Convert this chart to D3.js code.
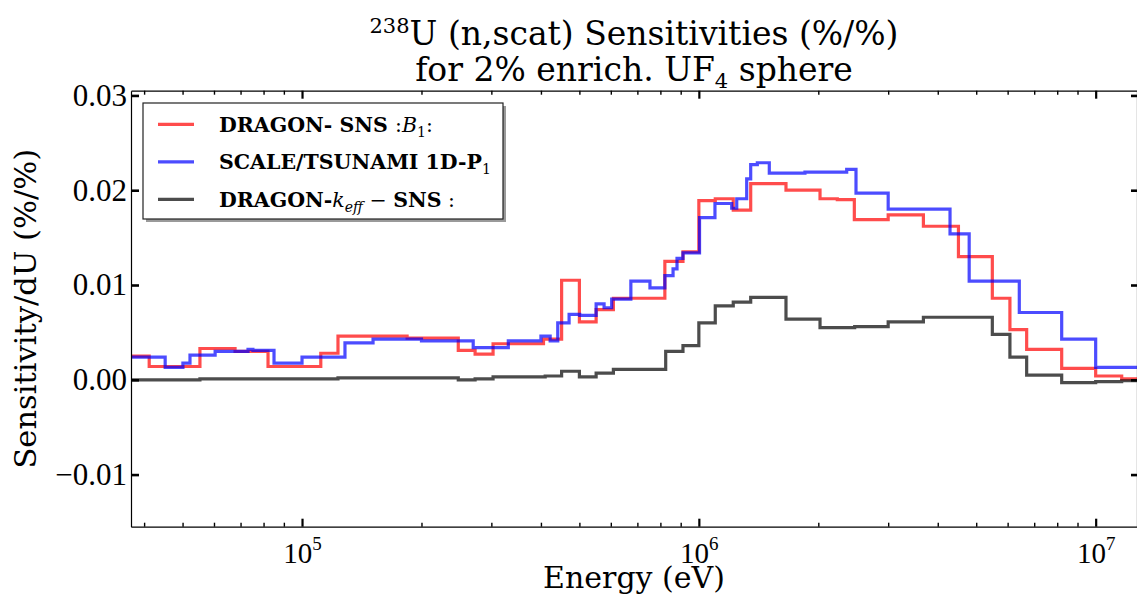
<!DOCTYPE html>
<html><head><meta charset="utf-8">
<script src="https://cdn.jsdelivr.net/npm/d3@7"></script>
<style>
body{margin:0;background:#fff;}
svg{display:block;}
</style>
</head><body>
<svg id="chart" width="1137" height="596"></svg>
<script>
// ---- data ----
const redEdges = [3.0e4, 4.12e4, 5.53e4, 6.78e4, 8.21e4, 1.115e5, 1.232e5, 1.84e5, 2.476e5, 2.73e5, 3.03e5, 4.06e5, 4.51e5, 5.0e5, 5.51e5, 6.09e5, 8.21e5, 9.12e5, 1.0e6, 1.10e6, 1.221e6, 1.351e6, 1.658e6, 2.02e6, 2.233e6, 2.465e6, 3.0e6, 3.68e6, 4.51e6, 5.49e6, 6.08e6, 6.70e6, 8.21e6, 1.0e7, 1.163e7, 2.0e7];
const redValues = [0.0025, 0.0014, 0.0033, 0.0030, 0.0014, 0.0028, 0.0046, 0.0044, 0.0031, 0.0027, 0.0038, 0.0043, 0.0105, 0.0061, 0.0074, 0.0086, 0.0125, 0.0135, 0.0189, 0.0191, 0.0179, 0.0207, 0.0200, 0.0191, 0.0190, 0.0169, 0.0174, 0.0162, 0.0130, 0.0086, 0.0053, 0.0032, 0.0012, 0.0004, 0.0001];

const blueEdges = [3.0e4, 4.52e4, 5.01e4, 5.22e4, 6.04e4, 7.31e4, 7.52e4, 8.50e4, 1.0e5, 1.283e5, 1.51e5, 2.0e5, 2.70e5, 3.31e5, 4.0e5, 4.22e5, 4.41e5, 4.71e5, 5.01e5, 5.51e5, 5.77e5, 6.03e5, 6.74e5, 7.53e5, 8.21e5, 8.61e5, 8.81e5, 9.12e5, 1.004e6, 1.098e6, 1.21e6, 1.246e6, 1.32e6, 1.351e6, 1.404e6, 1.505e6, 1.851e6, 2.358e6, 2.489e6, 3.0e6, 4.295e6, 4.80e6, 6.42e6, 8.21e6, 1.0e7, 2.0e7];
const blueValues = [0.0024, 0.0013, 0.00175, 0.0026, 0.0030, 0.0032, 0.0031, 0.00175, 0.0024, 0.0039, 0.0043, 0.0041, 0.0034, 0.0041, 0.0046, 0.0041, 0.0060, 0.0069, 0.0068, 0.0080, 0.0076, 0.0085, 0.0104, 0.0097, 0.0110, 0.0117, 0.0128, 0.0134, 0.0171, 0.0186, 0.0181, 0.0191, 0.0212, 0.0227, 0.0229, 0.0218, 0.0219, 0.0222, 0.0197, 0.0180, 0.0154, 0.0104, 0.0071, 0.0043, 0.0013];

const blackEdges = [3.0e4, 5.53e4, 1.232e5, 2.476e5, 2.73e5, 3.03e5, 4.10e5, 4.51e5, 5.0e5, 5.51e5, 6.09e5, 8.25e5, 9.12e5, 1.0e6, 1.10e6, 1.221e6, 1.351e6, 1.658e6, 2.02e6, 2.47e6, 3.0e6, 3.68e6, 5.49e6, 6.08e6, 6.70e6, 8.21e6, 1.0e7, 1.163e7, 2.0e7];
const blackValues = [0.0000, 0.0001, 0.0002, 0.0000, 0.0001, 0.0003, 0.0004, 0.0009, 0.0003, 0.0007, 0.0011, 0.0030, 0.0036, 0.0060, 0.0078, 0.0082, 0.0087, 0.0064, 0.0055, 0.0056, 0.0061, 0.0066, 0.0048, 0.0024, 0.0005, -0.0003, -0.0002, -0.0001];

const yTicks = [-0.01, 0.00, 0.01, 0.02, 0.03];
const xMajorTicks = [1e5, 1e6, 1e7];
const xMinorTicks = [4e4, 5e4, 6e4, 7e4, 8e4, 9e4, 2e5, 3e5, 4e5, 5e5, 6e5, 7e5, 8e5, 9e5, 2e6, 3e6, 4e6, 5e6, 6e6, 7e6, 8e6, 9e6];
const xDomain = [3.707e4, 1.271e7];
const yDomain = [-0.0155, 0.0305];

// ---- layout ----
const SERIF = '"DejaVu Serif","Liberation Serif",serif';
const TSERIF = '"Liberation Serif","DejaVu Serif",serif';
const L = 131, R = 1137, T = 90.7, B = 526.7;
const svg = d3.select("#chart");
const x = d3.scaleLog().domain(xDomain).range([L, R]);
const y = d3.scaleLinear().domain(yDomain).range([B, T]);

svg.append("defs").append("clipPath").attr("id", "clip")
  .append("rect").attr("x", L).attr("y", T).attr("width", R - L).attr("height", B - T);

// series
function stepPoints(edges, vals) {
  const pts = vals.map((v, i) => [edges[i], v]);
  pts.push([edges[edges.length - 1], vals[vals.length - 1]]);
  return pts;
}
const line = d3.line().x(d => x(d[0])).y(d => y(d[1])).curve(d3.curveStepAfter);
const series = [
  {edges: redEdges, vals: redValues, color: "#ff0000"},
  {edges: blueEdges, vals: blueValues, color: "#0000ff"},
  {edges: blackEdges, vals: blackValues, color: "#000000"}
];
const g = svg.append("g").attr("clip-path", "url(#clip)");
series.forEach(s => {
  g.append("path").attr("d", line(stepPoints(s.edges, s.vals)))
    .attr("fill", "none").attr("stroke", s.color).attr("stroke-opacity", 0.7)
    .attr("stroke-width", 3.2).attr("stroke-linejoin", "miter");
});

// axes (inward ticks on all four sides)
function styleAxis(sel) {
  sel.select(".domain").attr("stroke", "#000").attr("stroke-width", 1.2);
  sel.selectAll(".tick line").attr("stroke", "#000");
}
const allX = xMajorTicks.concat(xMinorTicks);
const xb = svg.append("g").attr("transform", `translate(0,${B})`)
  .call(d3.axisBottom(x).tickValues(allX).tickFormat("").tickSizeInner(-4).tickSizeOuter(0));
const xt = svg.append("g").attr("transform", `translate(0,${T})`)
  .call(d3.axisTop(x).tickValues(allX).tickFormat("").tickSizeInner(-4).tickSizeOuter(0));
[xb, xt].forEach(a => {
  styleAxis(a);
  a.selectAll(".tick").filter(d => xMajorTicks.includes(d)).select("line")
    .attr("y2", a === xb ? -8 : 8).attr("stroke-width", 2.2);
  a.selectAll(".tick").filter(d => !xMajorTicks.includes(d)).select("line").attr("stroke-width", 1.4);
});
// x tick labels 10^n
xb.selectAll(".tick").filter(d => xMajorTicks.includes(d)).each(function(d) {
  const t = d3.select(this).append("text").attr("y", 36.5).attr("text-anchor", "middle")
    .style("font-family", TSERIF).style("font-size", "29px").attr("fill", "#000");
  t.append("tspan").text("10");
  t.append("tspan").attr("dy", -13).style("font-size", "19px").text(Math.round(Math.log10(d)));
});

const yl = svg.append("g").attr("transform", `translate(${L},0)`)
  .call(d3.axisLeft(y).tickValues(yTicks).tickSizeInner(-8).tickSizeOuter(0).tickPadding(4)
    .tickFormat(d => (d < 0 ? "\u2212" : "") + Math.abs(d).toFixed(2)));
const yr = svg.append("g").attr("transform", `translate(${R},0)`)
  .call(d3.axisRight(y).tickValues(yTicks).tickSizeInner(-6).tickSizeOuter(0).tickFormat(""));
[yl, yr].forEach(a => { styleAxis(a); a.selectAll(".tick line").attr("stroke-width", 2.6); });
yl.selectAll(".tick text").style("font-size", "31px").attr("fill", "#000").style("font-family", TSERIF);

// titles
const title = svg.append("text").attr("x", (L + R) / 2).attr("y", 45).attr("text-anchor", "middle")
  .style("font-family", SERIF).style("font-size", "33px");
title.append("tspan").attr("dy", -12).style("font-size", "21px").text("238");
title.append("tspan").attr("dy", 12).text("U (n,scat) Sensitivities (%/%)");
const title2 = svg.append("text").attr("x", (L + R) / 2).attr("y", 81).attr("text-anchor", "middle")
  .style("font-family", SERIF).style("font-size", "33px");
title2.append("tspan").text("for 2% enrich. UF");
title2.append("tspan").attr("dy", 7).style("font-size", "21px").text("4");
title2.append("tspan").attr("dy", -7).text(" sphere");

svg.append("text").attr("x", (L + R) / 2).attr("y", 588).attr("text-anchor", "middle")
  .style("font-family", SERIF).style("font-size", "30px").text("Energy (eV)");
svg.append("text").attr("transform", `translate(36,${(T + B) / 2}) rotate(-90)`).attr("text-anchor", "middle")
  .style("font-family", SERIF).style("font-size", "30.5px").text("Sensitivity/dU (%/%)");

// legend
const lg = svg.append("g");
lg.append("rect").attr("x", 146).attr("y", 106).attr("width", 360).attr("height", 116).attr("fill", "#9a9a9a");
lg.append("rect").attr("x", 143).attr("y", 103).attr("width", 360).attr("height", 116)
  .attr("fill", "#fff").attr("stroke", "#222").attr("stroke-width", 1.2);
const legendLabels = [
  [{t: "DRAGON- SNS ", b: 1}, {t: ":", b: 0}, {t: "B", i: 1}, {t: "1", sub: 1}, {t: ":", b: 0}],
  [{t: "SCALE/TSUNAMI 1D-P", b: 1}, {t: "1", sub: 1}],
  [{t: "DRAGON-", b: 1}, {t: "k", i: 1}, {t: "eff", i: 1, sub: 1}, {t: " \u2212 ", b: 0}, {t: "SNS", b: 1}, {t: " :", b: 0}]
];
const legendColors = ["#ff0000", "#0000ff", "#000000"];
const rowsY = [124.3, 161.8, 199.3];
legendLabels.forEach((parts, i) => {
  lg.append("line").attr("x1", 158).attr("x2", 194).attr("y1", rowsY[i]).attr("y2", rowsY[i])
    .attr("stroke", legendColors[i]).attr("stroke-opacity", 0.7).attr("stroke-width", 3.2);
  const t = lg.append("text").attr("x", 219).attr("y", rowsY[i] + 7.5)
    .style("font-family", SERIF).style("font-size", "20.5px").attr("fill", "#000");
  let shifted = false;
  parts.forEach(p => {
    const ts = t.append("tspan").text(p.t);
    if (p.b) ts.style("font-weight", "bold");
    if (p.i) ts.style("font-style", "italic");
    if (p.sub && !shifted) { ts.attr("dy", 5).style("font-size", "14px"); shifted = true; }
    else if (p.sub) { ts.style("font-size", "14px"); }
    else if (shifted) { ts.attr("dy", -5); shifted = false; }
  });
});
</script>
</body></html>
